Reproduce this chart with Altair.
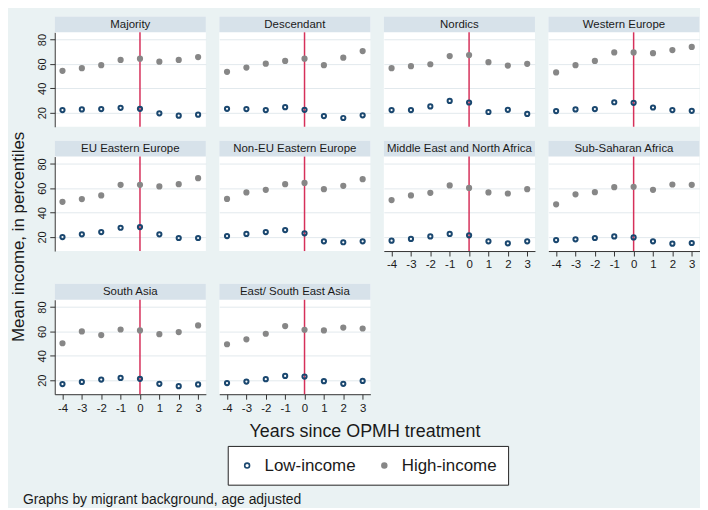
import altair as alt
import pandas as pd

FONT = "Liberation Sans"

years = [-4, -3, -2, -1, 0, 1, 2, 3]
treatment_year = [0]
y_ticks = [20, 40, 60, 80]
series_names = ["Low-income", "High-income"]

panel_names = [
    "Majority", "Descendant", "Nordics", "Western Europe",
    "EU Eastern Europe", "Non-EU Eastern Europe", "Middle East and North Africa", "Sub-Saharan Africa",
    "South Asia", "East/ South East Asia",
]

majority_low = [22.2, 22.7, 23.0, 24.0, 23.2, 19.5, 17.6, 18.4]
majority_high = [54.4, 56.6, 59.0, 63.3, 64.4, 61.9, 63.3, 65.7]
descendant_low = [23.2, 23.0, 22.2, 24.6, 22.4, 17.3, 15.7, 17.9]
descendant_high = [53.6, 57.1, 60.3, 62.5, 64.4, 59.0, 65.2, 70.6]
nordics_low = [22.2, 22.2, 25.2, 29.7, 28.4, 20.6, 22.4, 19.0]
nordics_high = [56.6, 58.2, 59.8, 66.5, 67.3, 61.5, 58.7, 60.1]
western_low = [21.4, 22.7, 23.0, 28.6, 28.1, 24.3, 22.2, 21.6]
western_high = [53.1, 59.0, 62.5, 69.5, 69.5, 68.9, 71.4, 74.0]
eu_east_low = [20.0, 22.2, 24.1, 27.6, 28.2, 22.2, 19.2, 19.2]
eu_east_high = [48.9, 51.1, 54.1, 62.8, 62.8, 61.5, 63.4, 68.3]
non_eu_east_low = [20.8, 22.5, 24.1, 25.7, 23.0, 16.5, 15.7, 16.5]
non_eu_east_high = [51.3, 56.6, 58.7, 63.4, 64.4, 59.3, 62.0, 67.5]
mena_low = [17.0, 18.4, 20.5, 22.5, 21.4, 16.5, 14.8, 16.5]
mena_high = [50.3, 54.1, 56.3, 62.3, 60.3, 56.6, 55.7, 59.3]
ssa_low = [17.5, 18.1, 19.2, 20.5, 19.7, 16.5, 14.5, 15.1]
ssa_high = [46.8, 55.0, 56.8, 60.9, 61.2, 58.7, 63.1, 62.8]
south_asia_low = [16.8, 18.6, 20.5, 21.9, 21.1, 17.0, 15.1, 16.5]
south_asia_high = [50.3, 60.0, 57.0, 61.6, 60.8, 57.8, 59.5, 64.9]
east_asia_low = [17.6, 18.9, 20.8, 23.5, 23.0, 19.2, 17.0, 19.4]
east_asia_high = [49.5, 53.5, 58.1, 64.4, 61.4, 60.8, 63.2, 62.4]

low_values = [majority_low, descendant_low, nordics_low, western_low, eu_east_low,
              non_eu_east_low, mena_low, ssa_low, south_asia_low, east_asia_low]
high_values = [majority_high, descendant_high, nordics_high, western_high, eu_east_high,
               non_eu_east_high, mena_high, ssa_high, south_asia_high, east_asia_high]

y_title = "Mean income, in percentiles"
x_title = "Years since OPMH treatment"
note = "Graphs by migrant background, age adjusted"

W, H, SH = 152, 95, 16
BG = "#eaf2f3"
STRIP = "#d7e2ea"
GRID = "#e2e9ed"
NAVY = "#1a476f"
GRAY = "#878787"
RED = "#d6305a"
TXT = "#1a1a1a"

bottom_panels = {6, 7, 8, 9}

legend = alt.Legend(
    title=None, orient="none", legendX=174, legendY=432, direction="horizontal",
    strokeColor="#222222", fillColor="white", padding=11, labelFont=FONT,
    labelFontSize=17, labelColor=TXT, symbolSize=24, symbolStrokeWidth=1.6,
    columnPadding=20, labelOffset=9, symbolType="circle",
)


def panel(i):
    name = panel_names[i]
    show_y = i % 4 == 0
    show_x = i in bottom_panels
    df = pd.DataFrame({
        "year": years + years,
        "value": low_values[i] + high_values[i],
        "series": [series_names[0]] * len(years) + [series_names[1]] * len(years),
    })
    x_scale = alt.Scale(domain=[-4.4, 3.4], nice=False, zero=False)
    y_scale = alt.Scale(domain=[8.5, 86], nice=False, zero=False, range=[SH + H, SH])
    x_axis = alt.Axis(
        values=years, grid=False, title=None, labels=show_x, ticks=show_x, domain=show_x,
        labelFont=FONT, labelFontSize=11.5, labelColor=TXT, tickColor="#333333",
        domainColor="#333333", tickSize=5, labelPadding=3,
        labelExpr="datum.value < 0 ? '-' + abs(datum.value) : '' + datum.value",
    )
    y_axis = alt.Axis(
        values=y_ticks, grid=True, gridColor=GRID, gridWidth=1, labels=show_y,
        ticks=show_y, domain=show_y, labelAngle=270, labelAlign="center",
        labelBaseline="bottom", labelPadding=2, tickSize=5, labelFont=FONT,
        labelFontSize=11, labelColor=TXT, tickColor="#333333", domainColor="#333333",
        title=None,
    )

    strip_df = pd.DataFrame({"name": [name]})
    strip = alt.Chart(strip_df).mark_rect(color=STRIP).encode(
        x=alt.value(0), x2=alt.value(W), y=alt.value(0), y2=alt.value(SH)
    )
    label = alt.Chart(strip_df).mark_text(
        font=FONT, fontSize=11.5, color=TXT, baseline="middle"
    ).encode(text="name:N", x=alt.value(W / 2), y=alt.value(SH / 2 + 0.5))
    rule = alt.Chart(pd.DataFrame({"year": treatment_year})).mark_rule(
        color=RED, strokeWidth=1.5
    ).encode(
        x=alt.X("year:Q", scale=x_scale, axis=x_axis),
        y=alt.value(SH), y2=alt.value(SH + H),
    )
    pts = alt.Chart(df).mark_point(shape="circle", size=18, strokeWidth=2, opacity=1).encode(
        x=alt.X("year:Q", scale=x_scale, axis=x_axis),
        y=alt.Y("value:Q", scale=y_scale, axis=y_axis),
        stroke=alt.Stroke("series:N", scale=alt.Scale(domain=series_names, range=[NAVY, GRAY]), legend=legend),
        fill=alt.Fill("series:N", scale=alt.Scale(domain=series_names, range=["transparent", GRAY]), legend=legend),
    )
    return alt.layer(strip, label, rule, pts).properties(
        width=W, height=SH + H, view=alt.ViewBackground(fill="white", strokeWidth=0)
    )


rows = [
    alt.hconcat(*[panel(i) for i in range(0, 4)], spacing=13.5),
    alt.hconcat(*[panel(i) for i in range(4, 8)], spacing=13.5),
    alt.hconcat(*[panel(i) for i in range(8, 10)], spacing=13.5),
]
grid = alt.vconcat(*rows, spacing=13).properties(
    title=alt.TitleParams(
        text=y_title, orient="left", anchor="middle", font=FONT, fontSize=17,
        fontWeight="normal", color=TXT, offset=9, dx=-22,
    )
)

xt = alt.Chart(pd.DataFrame({"t": [x_title]})).mark_text(
    font=FONT, fontSize=18, color=TXT, baseline="middle"
).encode(text="t:N", x=alt.value(312), y=alt.value(12))
nt = alt.Chart(pd.DataFrame({"n": [note]})).mark_text(
    font=FONT, fontSize=14, color=TXT, align="left", baseline="middle"
).encode(text="n:N", x=alt.value(-32), y=alt.value(80))
bottom = alt.layer(xt, nt).properties(
    width=649, height=87, view=alt.ViewBackground(strokeWidth=0)
)

chart = alt.vconcat(grid, bottom, spacing=6).properties(
    background=BG, padding={"left": 1, "top": 7, "right": 0, "bottom": 0}
).configure_view(strokeWidth=0)

chart.save("out.html", embed_options={"renderer": "svg", "actions": False})
